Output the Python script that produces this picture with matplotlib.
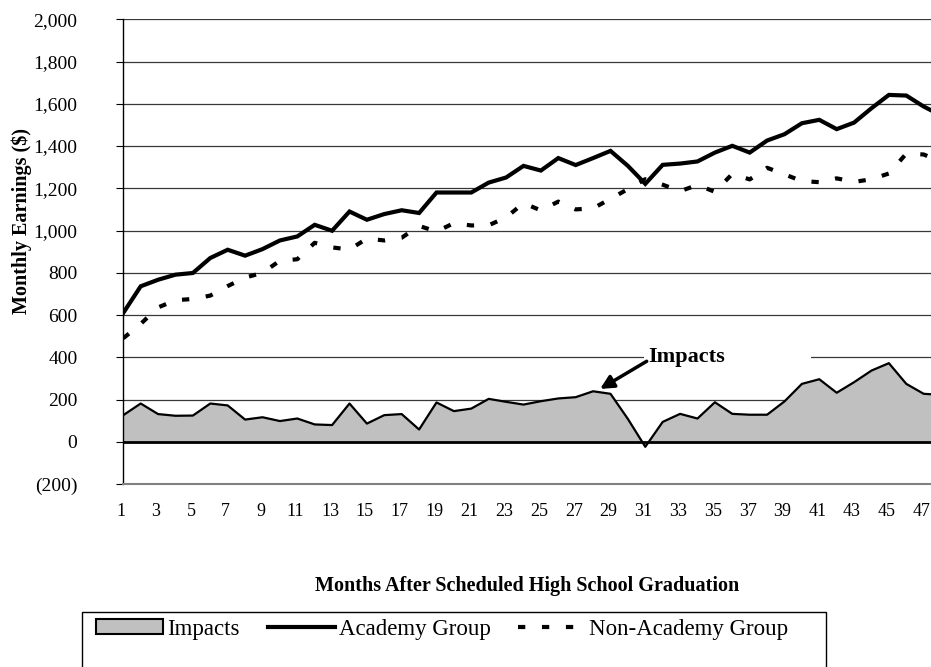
import matplotlib
matplotlib.use("Agg")
import matplotlib.pyplot as plt
from matplotlib.patches import Rectangle, Patch
from matplotlib.lines import Line2D
from matplotlib.ticker import FuncFormatter
from matplotlib.transforms import ScaledTranslation

plt.rcParams['font.family'] = ['Liberation Serif', 'DejaVu Serif']

months = list(range(1, 49))
academy = [610, 736, 767, 791, 799, 870, 909, 881, 912, 953,
           972, 1027, 999, 1090, 1051, 1078, 1096, 1083, 1180, 1180,
           1180, 1227, 1251, 1306, 1284, 1343, 1310, 1343, 1377, 1306,
           1221, 1311, 1317, 1327, 1369, 1401, 1369, 1426, 1456, 1508,
           1524, 1480, 1511, 1579, 1642, 1639, 1587, 1545]
non_academy = [490, 558, 636, 670, 676, 692, 737, 777, 800, 857,
               864, 942, 920, 910, 962, 953, 966, 1022, 995, 1035,
               1024, 1025, 1062, 1130, 1095, 1137, 1100, 1105, 1150, 1196,
               1243, 1217, 1186, 1216, 1183, 1268, 1242, 1297, 1266, 1234,
               1229, 1247, 1230, 1243, 1270, 1364, 1360, 1325]
impacts = [126, 181, 131, 123, 124, 181, 172, 105, 116, 98,
           110, 82, 79, 181, 86, 126, 131, 58, 186, 145,
           157, 203, 189, 176, 192, 205, 211, 239, 227, 108,
           -24, 94, 132, 110, 187, 132, 128, 128, 191, 274,
           296, 232, 282, 337, 372, 274, 227, 222]
x_ticks = list(range(1, 48, 2))
y_ticks = list(range(-200, 2001, 200))

W, H = 931, 667
fig = plt.figure(figsize=(W / 100, H / 100), dpi=100)
ax = fig.add_axes([123.3 / W, 1 - 484 / H, 1 - 123.3 / W, (484 - 19.3) / H])

ax.set_xlim(1, 47.42)
ax.set_ylim(-200, 2000)

ax.fill_between(months, 0, impacts, facecolor='#C0C0C0', edgecolor='none', zorder=2)
ax.plot(months, impacts, color='black', lw=1.6, zorder=2.5)
ax.axhline(0, color='black', lw=2.0, zorder=2.6)
ax.plot(months, academy, color='black', lw=3.0, solid_joinstyle='miter', zorder=3)
ax.plot(months, non_academy, color='black', lw=3.0, linestyle=(0, (1.75, 4.0)),
        dash_capstyle='butt', zorder=3)

ax.set_axisbelow(True)
ax.yaxis.grid(True, color='#383838', lw=0.9)
ax.set_yticks(y_ticks)
ax.yaxis.set_major_formatter(FuncFormatter(
    lambda v, p: f"({abs(int(v)):,})" if v < 0 else f"{int(v):,}"))
ax.set_xticks(x_ticks)
ax.set_xticklabels([str(m) for m in x_ticks])
ax.tick_params(axis='y', direction='out', length=5, width=0.8, pad=28, labelsize=14)
ax.tick_params(axis='x', length=0, pad=14, labelsize=13)
shift = ScaledTranslation(-0.02, 0, fig.dpi_scale_trans)
for lbl in ax.get_xticklabels():
    lbl.set_transform(lbl.get_transform() + shift)
for s in ['top', 'right']:
    ax.spines[s].set_visible(False)
ax.spines['left'].set_color('black')
ax.spines['left'].set_linewidth(1.0)
ax.spines['bottom'].set_color('#808080')
ax.spines['bottom'].set_linewidth(1.5)

# annotation
ax.add_patch(Rectangle((30.9, 378), 9.6, 44, facecolor='white', edgecolor='none', zorder=1))
ax.text(31.15, 400, 'Impacts', fontsize=16, fontweight='bold', va='center', ha='left', zorder=4)
ax.annotate('', xy=(28.4, 250), xytext=(31.08, 381),
            arrowprops=dict(arrowstyle='-|>', color='black', lw=2.5, mutation_scale=20,
                            shrinkA=0, shrinkB=0), zorder=4)

fig.text(21.7 / W, 1 - 221 / H, 'Monthly Earnings ($)', rotation=90, fontsize=14.5,
         fontweight='bold', ha='center', va='center')
fig.text(527 / W, 1 - 586 / H, 'Months After Scheduled High School Graduation', fontsize=14.5,
         fontweight='bold', ha='center', va='center')

# legend
fig.patches.append(Rectangle((82 / W, -0.05), (826 - 82) / W, 0.05 + 1 - 612 / H,
                             transform=fig.transFigure, facecolor='none', edgecolor='black',
                             lw=1.0))
handles = [Patch(facecolor='#C0C0C0', edgecolor='black', lw=1.5),
           Line2D([], [], color='black', lw=3.0),
           Line2D([], [], color='black', lw=3.0, linestyle=(0, (1.75, 4.0)), dash_capstyle='butt')]
labels = ['Impacts', 'Academy Group', 'Non-Academy Group']
fig.legend(handles, labels, ncol=3, loc='center left', bbox_to_anchor=(96 / W, 1 - 629 / H),
           frameon=False, fontsize=16.5, handlelength=2.93, handleheight=0.6,
           handletextpad=0.17, columnspacing=1.22, borderpad=0, borderaxespad=0)

fig.savefig('out.png', dpi=100)
